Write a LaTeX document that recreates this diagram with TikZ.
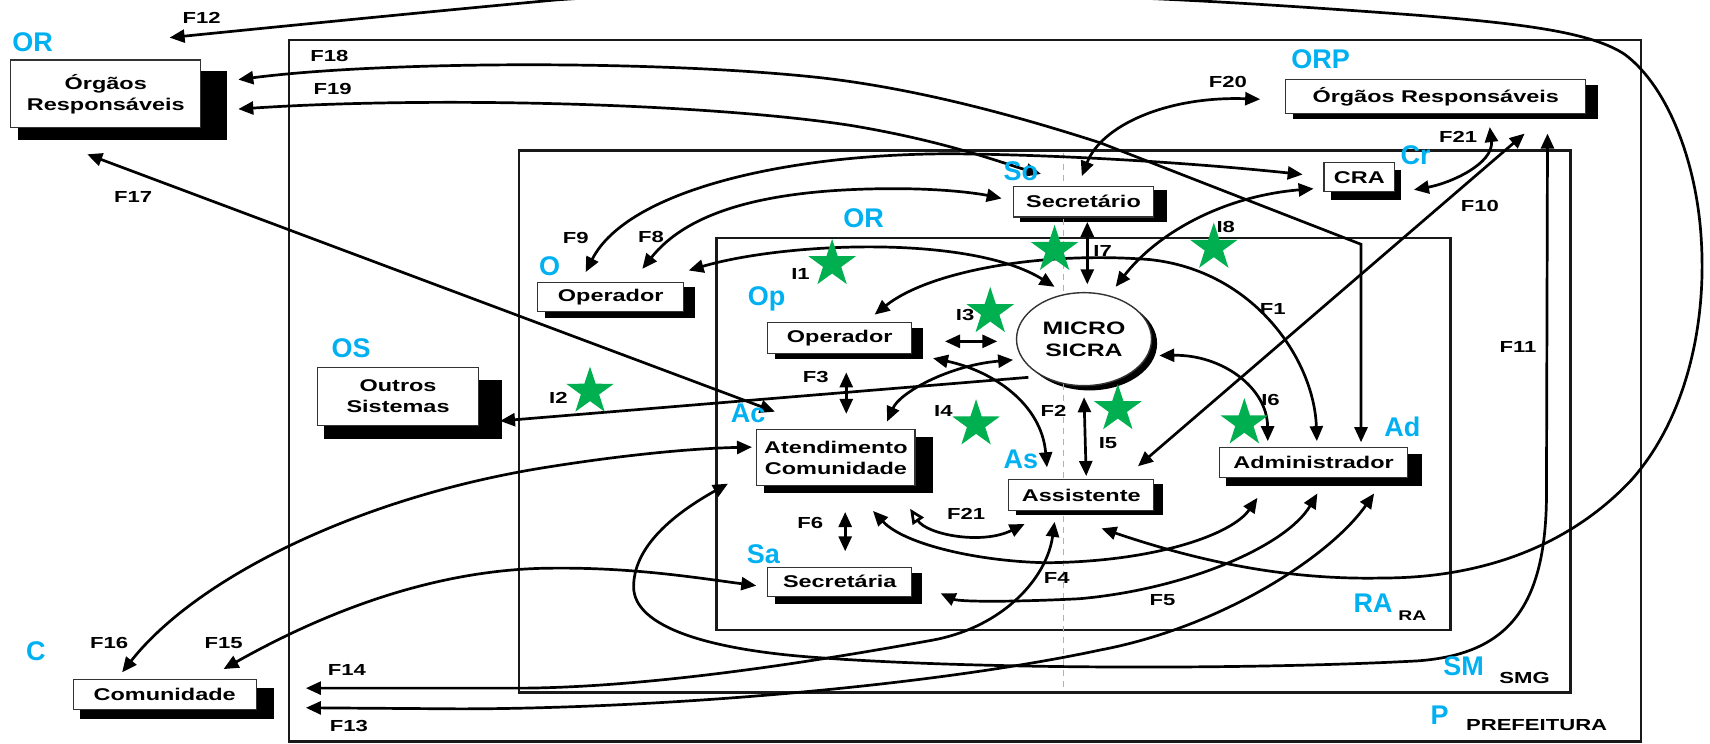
\documentclass[tikz,border=0pt]{standalone}
\usepackage{fontspec}
\setmainfont{Liberation Sans}
\newfontfamily\lblfont[FakeStretch=1.38]{Liberation Sans}
\usetikzlibrary{arrows.meta,shapes.geometric,calc,backgrounds}

\definecolor{tagblue}{HTML}{00B0F0}
\definecolor{stargreen}{HTML}{00B050}

% black drop shadow under a box: #2 = extra width on the right, #3 = drop below
\newcommand\boxshadow[3]{%
  \fill[black] ($(#1.north west)+(7,#3)$) rectangle ($(#1.south east)+(#2,#3)$);}

\begin{document}
\begin{tikzpicture}[x=1.0906pt,y=-1.0906pt,
  >={Triangle[length=15pt,width=13pt]},
  framebox/.style={line width=2.3pt,black!90},
  box/.style={draw=black!80,line width=1.1pt,fill=white,inner sep=0pt,align=center,
    font=\lblfont\bfseries\fontsize{17}{21}\selectfont},
  flab/.style={inner sep=0pt,font=\lblfont\bfseries\fontsize{16}{18}\selectfont},
  tagtext/.style={inner sep=0pt,text=tagblue,font=\bfseries\fontsize{27}{30}\selectfont},
  gstar/.style={star,star points=5,star point ratio=2.6,fill=stargreen,draw=none,
    minimum size=50pt,inner sep=0pt},
  conn/.style={line width=2.7pt,<->},
  connto/.style={line width=2.7pt,->},
  connopen/.style={line width=2.7pt,{Triangle[open,length=15pt,width=13pt]}-{Triangle[length=15pt,width=13pt]}}
]
\useasboundingbox (0,0) rectangle (1568,682);

% nested frames
\draw[framebox] (265,37) rectangle (1505,680);
\draw[framebox] (476,138) rectangle (1440,635);
\draw[framebox] (657,218) rectangle (1330,578);
\draw[black!30,line width=0.8pt,dash pattern=on 6pt off 5pt] (975,140) -- (975,630);

\node[flab] (tpref) at (1409,665) {PREFEITURA};
\node[flab] (tsmg) at (1398,622) {SMG};
\node[flab,font=\lblfont\bfseries\fontsize{14}{16}\selectfont] (tra) at (1295,565) {RA};

% boxes
\node[box,minimum width=189.8pt,minimum height=67.6pt] (orl) at (97,86) {Órgãos\\Responsáveis};
\node[box,minimum width=299.9pt,minimum height=33.8pt] (orp) at (1316.5,88.5) {Órgãos Responsáveis};
\node[box,minimum width=70.9pt,minimum height=29.4pt] (cra) at (1246.5,162.5) {CRA};
\node[box,minimum width=140.7pt,minimum height=30.5pt] (sec) at (993.5,185) {Secretário};
\node[box,minimum width=146.1pt,minimum height=29.4pt] (opo) at (560,272.5) {Operador};
\node[box,minimum width=144pt,minimum height=30.5pt] (opi) at (770,310) {Operador};
\node[box,ellipse,minimum width=135pt,minimum height=93pt,line width=1.4pt,
  font=\lblfont\bfseries\fontsize{18}{22}\selectfont] (ms) at (994,311) {MICRO\\SICRA};
\node[box,minimum width=161.4pt,minimum height=57.8pt] (os) at (365,363.5) {Outros\\Sistemas};
\node[box,minimum width=158.1pt,minimum height=55.6pt] (ac) at (766.5,419.5) {Atendimento\\Comunidade};
\node[box,minimum width=145pt,minimum height=30.5pt] (as) at (991.5,454) {Assistente};
\node[box,minimum width=188.7pt,minimum height=30.5pt] (ad) at (1204.5,424) {Administrador};
\node[box,minimum width=144pt,minimum height=29.4pt] (sa) at (770,533.5) {Secretária};
\node[box,minimum width=183.2pt,minimum height=30.5pt] (com) at (151,637) {Comunidade};

\begin{scope}[on background layer]
  \boxshadow{orl}{24}{11}
  \boxshadow{orp}{11}{5}
  \boxshadow{cra}{5}{7}
  \boxshadow{sec}{12}{4}
  \boxshadow{opo}{10}{5}
  \boxshadow{opi}{10}{5}
  \boxshadow{os}{21}{12}
  \boxshadow{ac}{16}{7}
  \boxshadow{as}{8}{4}
  \boxshadow{ad}{12}{7}
  \boxshadow{sa}{9}{6}
  \boxshadow{com}{16}{8}
  \fill[black] ($(ms.center)+(5,4)$) ellipse [x radius=62, y radius=43];
\end{scope}

% connectors
\draw[conn] ([shift={(18.5,16)}]as.south) .. controls (1100,515) and (1180,532) .. (1268,530)
  .. controls (1360,530) and (1440,500) .. (1496,440)
  .. controls (1545,385) and (1565,300) .. (1560,220)
  .. controls (1556,150) and (1530,80) .. (1490,50)
  .. controls (1460,30) and (1400,22) .. (1300,14)
  .. controls (1180,5) and (1080,-1) .. (1009,-3)
  .. controls (850,-12) and (650,-10) .. (509,0)
  .. controls (380,12) and (250,25) .. ([shift={(-29,-20)}]orl.north east);
\draw[conn] ([shift={(34,-13)}]orl.east) .. controls (350,56) and (600,55) .. (750,71)
  .. controls (850,82) and (950,112) .. (1009,131) -- (1248,224) -- ([shift={(43.5,-4)}]ad.north);
\draw[conn] ([shift={(34,14)}]orl.east) .. controls (400,88) and (650,95) .. (780,115)
  .. controls (870,130) and (920,150) .. ([shift={(26,-11)}]sec.north west);
\draw[conn] ([shift={(-1.5,-9)}]sec.north) .. controls (1010,115) and (1070,88) .. ([shift={(-23,2.5)}]orp.west);
\draw[conn] ([shift={(-23,-9)}]opo.north) .. controls (575,175) and (720,141) .. (873,141)
  .. controls (980,142) and (1100,150) .. ([shift={(-19,-2.5)}]cra.west);
\draw[conn] ([shift={(29,-12)}]opo.north) .. controls (630,195) and (700,173) .. (820,173)
  .. controls (870,173) and (900,178) .. ([shift={(-10,-3)}]sec.west);
\draw[conn] ([shift={(-17,24)}]orl.south) -- ([shift={(17,-16)}]ac.north west);
\draw[connto] ([shift={(-51,35)}]ms.center) -- ([shift={(19,22.5)}]os.east);
\draw[conn] ([shift={(4,-24.5)}]opo.east) .. controls (720,222) and (890,215) .. ([shift={(-27,-48)}]ms.center);
\draw[conn] ([shift={(3.5,4)}]sec.south) -- ([shift={(3,-7)}]ms.north);
\draw[conn] ([shift={(29,-48)}]ms.center) .. controls (1060,215) and (1120,180) .. ([shift={(-9,10.5)}]cra.west);
\draw[conn] ([shift={(17,11.5)}]cra.east) .. controls (1330,168) and (1370,150) .. ([shift={(49.5,12)}]orp.south);
\draw[conn] ([shift={(81.5,18)}]orp.south) -- ([shift={(-15,-12)}]as.north east);
\draw[conn] ([shift={(102.5,18)}]orp.south) -- (1418,460)
  .. controls (1416,560) and (1380,600) .. (1300,606)
  .. controls (1150,614) and (900,614) .. (750,603)
  .. controls (650,596) and (581,575) .. (581,538)
  .. controls (581,500) and (620,470) .. ([shift={(-26,-2)}]ac.south west);
\draw[conn] ([shift={(55.5,14)}]ad.south) .. controls (1220,510) and (1120,575) .. (1009,596)
  .. controls (850,630) and (600,650) .. (420,650) -- ([shift={(45,12)}]com.east);
\draw[conn] ([shift={(-24.5,10)}]as.south) .. controls (960,530) and (920,575) .. (855,587)
  .. controls (750,606) and (600,630) .. (480,631) -- ([shift={(45,-6)}]com.east);
\draw[conn] ([shift={(54,-9)}]com.north) .. controls (300,560) and (400,522) .. (504,521)
  .. controls (580,520) and (640,530) .. ([shift={(-10,3.5)}]sa.west);
\draw[conn] ([shift={(-39,-6)}]com.north) .. controls (180,530) and (330,455) .. (504,428)
  .. controls (580,416) and (640,411) .. ([shift={(-4,-9.5)}]ac.west);
\draw[conn] ([shift={(6,17)}]opi.south) -- ([shift={(9.5,-14)}]ac.north);
\draw[conn] ([shift={(8.5,24)}]ac.south) -- ([shift={(5,-14)}]sa.north);
\draw[conn] ([shift={(0,10)}]ms.south) -- ([shift={(4.5,-3)}]as.north);
\draw[conn] ([shift={(30,3)}]opi.east) -- ([shift={(-17,2)}]ms.west);
\draw[conn] ([shift={(19,4)}]opi.south east) .. controls (910,340) and (955,370) .. ([shift={(-31.5,-11)}]as.north);
\draw[conn] ([shift={(-65,19)}]ms.center) .. controls (870,335) and (825,360) .. ([shift={(-26,-7)}]ac.north east);
\draw[conn] ([shift={(32,-7)}]opi.north) .. controls (850,250) and (950,230) .. (1054,238)
  .. controls (1150,248) and (1205,330) .. ([shift={(3,-5)}]ad.north);
\draw[conn] ([shift={(69,15)}]ms.center) .. controls (1120,325) and (1162,355) .. ([shift={(45,-5)}]ad.north west);
\draw[conn] ([shift={(-39,23)}]ac.south east) .. controls (830,500) and (900,515) .. (960,516)
  .. controls (1060,515) and (1130,490) .. ([shift={(-51.5,18)}]ad.south);
\draw[conn] ([shift={(26,10.5)}]sa.east) .. controls (880,552) and (930,552) .. (990,549)
  .. controls (1090,540) and (1180,500) .. ([shift={(3.5,14)}]ad.south);
\draw[connopen] ([shift={(-5,21)}]ac.south east) .. controls (850,490) and (900,500) .. ([shift={(15,12)}]as.south west);

% flow labels
\node[flab] (lf12) at (185,16) {F12};
\node[flab] (lf18) at (302,51) {F18};
\node[flab] (lf19) at (305,82) {F19};
\node[flab] (lf17) at (122,181) {F17};
\node[flab] (lf9) at (528,218) {F9};
\node[flab] (lf8) at (597,217) {F8};
\node[flab] (lf20) at (1126,75) {F20};
\node[flab] (lf21a) at (1337,126) {F21};
\node[flab] (lf10) at (1357,189) {F10};
\node[flab] (lf11) at (1392,318) {F11};
\node[flab] (li1) at (734,251) {I1};
\node[flab] (li7) at (1011,230) {I7};
\node[flab] (li8) at (1124,208) {I8};
\node[flab] (li3) at (885,289) {I3};
\node[flab] (lf1) at (1167,283) {F1};
\node[flab] (li2) at (512,365) {I2};
\node[flab] (lf3) at (748,346) {F3};
\node[flab] (li4) at (865,377) {I4};
\node[flab] (lf2) at (966,377) {F2};
\node[flab] (li5) at (1016,406) {I5};
\node[flab] (li6) at (1165,367) {I6};
\node[flab] (lf21b) at (886,471) {F21};
\node[flab] (lf6) at (743,480) {F6};
\node[flab] (lf4) at (969,530) {F4};
\node[flab] (lf5) at (1066,550) {F5};
\node[flab] (lf16) at (100,590) {F16};
\node[flab] (lf15) at (205,590) {F15};
\node[flab] (lf14) at (318,614) {F14};
\node[flab] (lf13) at (320,666) {F13};

% blue tags
\node[tagtext] (tor) at (30,39) {OR};
\node[tagtext] (torp) at (1211,54) {ORP};
\node[tagtext] (tcr) at (1298,142) {Cr};
\node[tagtext] (tso) at (936,157) {So};
\node[tagtext] (tori) at (792,200) {OR};
\node[tagtext] (to) at (504,244) {O};
\node[tagtext] (top) at (703,274) {Op};
\node[tagtext] (tos) at (322,319) {OS};
\node[tagtext] (tac) at (686,379) {Ac};
\node[tagtext] (tas) at (936,421) {As};
\node[tagtext] (tad) at (1286,391) {Ad};
\node[tagtext] (tsa) at (700,508) {Sa};
\node[tagtext] (tra2) at (1259,553) {RA};
\node[tagtext] (tsm) at (1342,611) {SM};
\node[tagtext] (tp) at (1320,656) {P};
\node[tagtext] (tc) at (33,597) {C};

% green stars
\node[gstar] (st1) at (763,242) {};
\node[gstar] (st2) at (967,229) {};
\node[gstar] (st3) at (1113,227) {};
\node[gstar] (st4) at (908,286) {};
\node[gstar] (st5) at (541,359) {};
\node[gstar] (st6) at (895,389) {};
\node[gstar] (st7) at (1025,375) {};
\node[gstar] (st8) at (1141,388) {};
\end{tikzpicture}
\end{document}
